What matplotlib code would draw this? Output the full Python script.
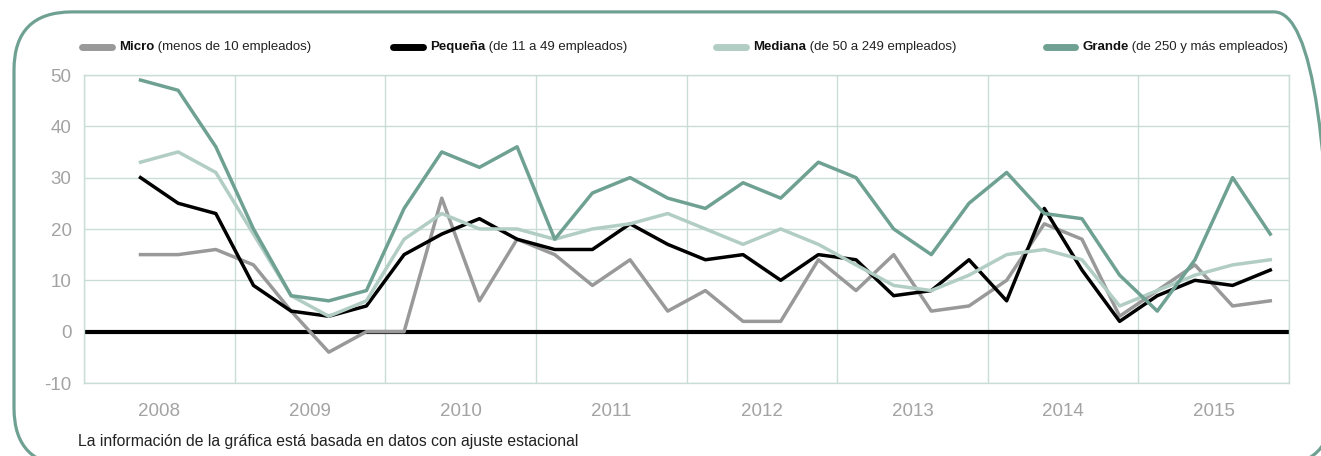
import matplotlib.pyplot as plt
from matplotlib.patches import FancyBboxPatch

plt.rcParams['font.family'] = ['Liberation Sans', 'DejaVu Sans']
plt.rcParams['axes.unicode_minus'] = False

# quarterly positions on a 32-slot category axis (2008 Q1 .. 2015 Q4), first slot empty
years = ['2008', '2009', '2010', '2011', '2012', '2013', '2014', '2015']
quarters = list(range(1, 32))

micro = [15, 15, 16, 13, 4, -4, 0, 0, 26, 6, 18, 15, 9, 14, 4, 8,
         2, 2, 14, 8, 15, 4, 5, 10, 21, 18, 3, 8, 13, 5, 6]
pequena = [30, 25, 23, 9, 4, 3, 5, 15, 19, 22, 18, 16, 16, 21, 17, 14,
           15, 10, 15, 14, 7, 8, 14, 6, 24, 12, 2, 7, 10, 9, 12]
mediana = [33, 35, 31, 19, 7, 3, 6, 18, 23, 20, 20, 18, 20, 21, 23, 20,
           17, 20, 17, 13, 9, 8, 11, 15, 16, 14, 5, 8, 11, 13, 14]
grande = [49, 47, 36, 20, 7, 6, 8, 24, 35, 32, 36, 18, 27, 30, 26, 24,
          29, 26, 33, 30, 20, 15, 25, 31, 23, 22, 11, 4, 14, 30, 19]

series = [
    ("Micro", " (menos de 10 empleados)", micro, "#999999"),
    ("Pequeña", " (de 11 a 49 empleados)", pequena, "#000000"),
    ("Mediana", " (de 50 a 249 empleados)", mediana, "#b2cec4"),
    ("Grande", " (de 250 y más empleados)", grande, "#6fa192"),
]

W, H = 1321, 456
fig = plt.figure(figsize=(W / 100 + 0.001, H / 100 + 0.001), dpi=100)

# background overlay in pixel units (y up) for frame, legend and note
bg = fig.add_axes([0, 0, 1, 1])
bg.set_xlim(0, W)
bg.set_ylim(0, H)
bg.axis("off")
frame = FancyBboxPatch((14, H - 466), 1332 - 14, 466 - 12,
                       boxstyle="round,pad=0,rounding_size=58",
                       fc="none", ec="#6fa192", lw=2.3)
bg.add_patch(frame)

legend_x = [[82, 112], [393, 423], [716, 746], [1046, 1075]]
for (name, rest, _, color), (x0, x1) in zip(series, legend_x):
    bg.plot([x0, x1], [H - 47, H - 47], color=color, lw=5, solid_capstyle="round")
    t = bg.text(x1 + 7, H - 47, name, fontsize=9.5, fontweight="bold",
                va="center", ha="left", color="#111111")
    bg.annotate(rest, xy=(1, 0.5), xycoords=t, va="center", ha="left",
                fontsize=9.5, color="#222222")

bg.text(78, H - 441, "La información de la gráfica está basada en datos con ajuste estacional",
        fontsize=11.3, va="center", ha="left", color="#222222")

# main chart
ax = fig.add_axes([84 / W, 1 - 383 / H, (1289 - 84) / W, (383 - 75) / H])
grid_color = "#c9dcd5"
ax.axhline(0, color="black", lw=3, zorder=2)
for name, rest, vals, color in series:
    ax.plot(quarters, vals, color=color, lw=2.5, zorder=3)

ax.set_xlim(-0.5, 31.5)
ax.set_ylim(-10, 50)
ax.set_yticks(range(-10, 51, 10))
ax.set_xticks([4 * i - 0.5 for i in range(9)])
ax.set_xticklabels([])
ax.set_xticks([4 * i + 1.5 for i in range(8)], minor=True)
ax.set_xticklabels(years, minor=True)
ax.grid(True, which="major", color=grid_color, lw=1)
ax.tick_params(which="both", length=0, labelsize=13.5, labelcolor="#a3a3a3")
ax.tick_params(axis="y", pad=9)
ax.tick_params(axis="x", which="minor", pad=14)
for s in ax.spines.values():
    s.set_color(grid_color)
    s.set_linewidth(1)

fig.savefig("out.png", dpi=100)
